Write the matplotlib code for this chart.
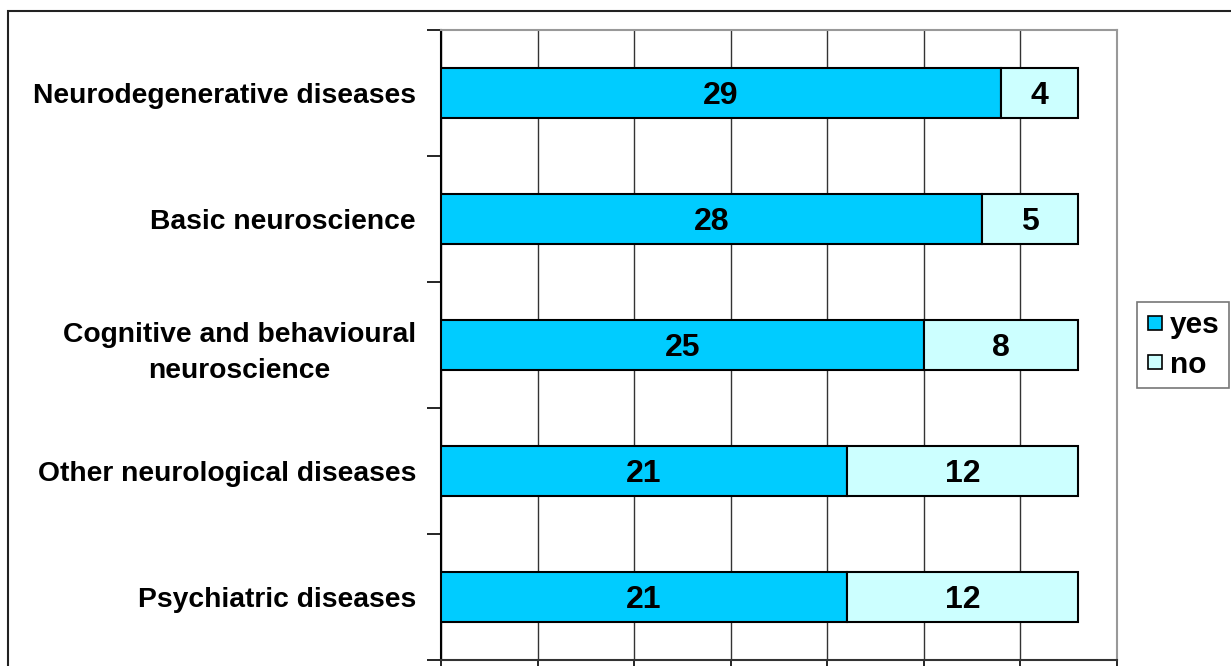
import matplotlib
matplotlib.use("Agg")
import matplotlib.pyplot as plt
from matplotlib.patches import Rectangle
from matplotlib.lines import Line2D

categories = [
    "Neurodegenerative diseases",
    "Basic neuroscience",
    "Cognitive and behavioural\nneuroscience",
    "Other neurological diseases",
    "Psychiatric diseases",
]
yes_values = [29, 28, 25, 21, 21]
no_values = [4, 5, 8, 12, 12]
series_names = ["yes", "no"]

YES_COLOR = "#00CCFF"
NO_COLOR = "#CCFFFF"

plt.rcParams["font.family"] = ["Liberation Sans", "DejaVu Sans"]
plt.rcParams["font.weight"] = "bold"

fig = plt.figure(figsize=(12.31, 6.66), dpi=100)
W, H = 1231, 666

# outer chart frame
fig.patches.append(Rectangle((8 / W, -0.1), 1.2, (666 - 11) / H + 0.1,
                             transform=fig.transFigure, fill=False,
                             edgecolor="#222222", linewidth=1.5))

ax = fig.add_axes([441 / W, (H - 660) / H, (1117 - 441) / W, (660 - 30) / H])

y = list(range(len(categories)))
bar_h = 0.4
ax.barh(y, yes_values, height=bar_h, color=YES_COLOR, edgecolor="black",
        linewidth=1.5, label=series_names[0], zorder=3)
ax.barh(y, no_values, left=yes_values, height=bar_h, color=NO_COLOR,
        edgecolor="black", linewidth=1.5, label=series_names[1], zorder=3)

# value labels: baseline shifted down by half the digit height so digits sit centred
label_size = 23
digit_shift = -0.716 * label_size / 2
for i in y:
    ax.annotate(str(yes_values[i]), (yes_values[i] / 2, i),
                xytext=(0, digit_shift), textcoords="offset points",
                ha="center", va="baseline", fontsize=label_size,
                fontweight="bold", zorder=4)
    ax.annotate(str(no_values[i]), (yes_values[i] + no_values[i] / 2, i),
                xytext=(0, digit_shift), textcoords="offset points",
                ha="center", va="baseline", fontsize=label_size,
                fontweight="bold", zorder=4)

ax.set_xlim(0, 35)
ax.set_ylim(len(categories) - 0.5, -0.5)
ax.set_xticks(range(0, 36, 5))
ax.set_xticklabels([])
ax.grid(axis="x", color="#333333", linewidth=1.0, zorder=1)

# boundary ticks between categories, labels centred on each bar
ax.set_yticks([i - 0.5 for i in range(len(categories) + 1)])
ax.set_yticklabels([])
ax.set_yticks(y, minor=True)
ax.set_yticklabels(categories, minor=True, fontsize=20.3, fontweight="bold",
                   multialignment="center", linespacing=1.5)
ax.tick_params(axis="y", which="minor", length=0, pad=18)
ax.tick_params(axis="y", which="major", direction="out", length=10, width=1.2)
ax.tick_params(axis="x", which="major", direction="out", length=10, width=1.2)

for side in ["top", "right"]:
    ax.spines[side].set_color("#999999")
    ax.spines[side].set_linewidth(1.5)
ax.spines["left"].set_color("black")
ax.spines["left"].set_linewidth(1.5)
ax.spines["bottom"].set_color("#333333")
ax.spines["bottom"].set_linewidth(1.5)

handles = [Line2D([], [], linestyle="none", marker="s", markersize=10,
                  markerfacecolor=c, markeredgecolor="black", markeredgewidth=1.2)
           for c in (YES_COLOR, NO_COLOR)]
leg = fig.legend(handles, series_names, loc="upper left",
                 bbox_to_anchor=(1137 / W, (H - 302) / H),
                 frameon=True, fancybox=False, prop={"size": 21.5, "weight": "bold"},
                 handlelength=0.6, handletextpad=0.2,
                 borderpad=0.3, labelspacing=0.4, borderaxespad=0)
leg.get_frame().set_edgecolor("#555555")
leg.get_frame().set_linewidth(1.2)

fig.savefig("out.png", dpi=100)
